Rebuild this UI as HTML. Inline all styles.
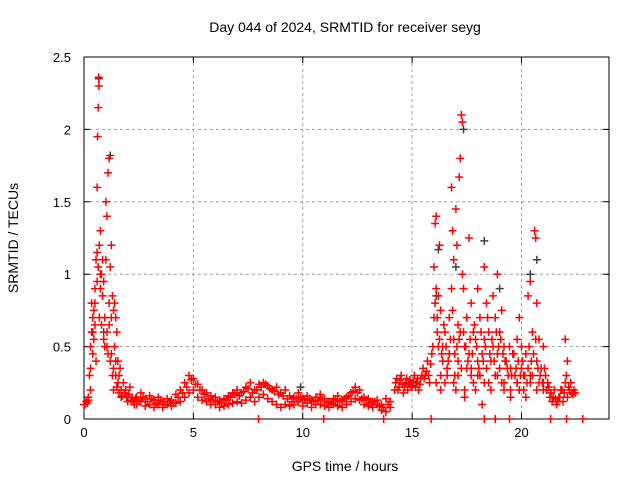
<!DOCTYPE html>
<html><head><meta charset="utf-8"><style>
html,body{margin:0;padding:0;background:#fff;}
svg{display:block;font-family:"Liberation Sans",sans-serif;}
</style></head><body>
<svg id="chart" width="640" height="480" xmlns="http://www.w3.org/2000/svg">
<rect width="640" height="480" fill="#fff"/>
<text x="345" y="32" font-size="14" text-anchor="middle">Day 044 of 2024, SRMTID for receiver seyg</text>
<text x="345" y="471" font-size="14" text-anchor="middle">GPS time / hours</text>
<text transform="translate(18,238) rotate(-90)" font-size="14" text-anchor="middle">SRMTID / TECUs</text>
<g id="grid"></g>
<g id="axes"></g>
<g id="dark"></g>
<g id="red"></g>
</svg>
<script>
const xTicks=[0,5,10,15,20];
const yTicks=[0,0.5,1,1.5,2,2.5];
const yTickLabels=["0","0.5","1","1.5","2","2.5"];
const redHours=[0,.05,.1,.15,.2,.25,.3,.3,.35,.35,.4,.4,.45,.5,.5,.55,.55,.6,.6,.62,.65,.67,.68,.7,.7,.75,.75,.8,.8,.85,.9,.9,.95,1,1,1.05,1.05,1.1,1.1,1.15,1.15,1.2,1.2,1.25,1.25,1.3,1.3,1.35,1.35,1.4,1.4,1.45,1.45,1.5,1.5,1.55,1.6,1.65,1.7,1.8,1.9,2,2.1,2.2,2.3,
2.4,2.4,2.6,2.6,2.8,2.8,3,3,3.2,3.2,3.4,3.4,3.6,3.6,3.8,3.8,4,4,4.2,4.2,4.4,4.4,4.6,4.6,4.8,4.8,5,5,5.2,5.2,5.4,5.4,5.6,5.6,5.8,5.8,6,6,6.2,6.2,6.4,6.4,6.6,6.6,6.8,6.8,7,7,7.2,7.2,7.4,7.4,7.6,7.6,7.8,7.8,8,8,8.2,8.2,8.4,8.4,8.6,8.6,8.8,8.8,9,9,9.2,9.2,9.4,9.4,9.6,9.6,9.8,9.8,10,10,10.2,10.2,10.4,10.4,10.6,10.6,10.8,10.8,11,11,11.2,11.2,11.4,11.4,11.6,11.6,11.8,11.8,12,12,12.2,12.2,12.4,12.4,12.6,12.6,12.8,12.8,13,13,13.2,13.2,13.4,13.4,13.6,13.6,13.8,13.8,14,14,
14.2,14.3,14.4,14.5,14.6,14.7,14.8,14.9,15,15.1,15.2,15.3,15.4,15.5,15.6,15.7,15.8,15.9,16,16,16.05,16.1,16.1,16.15,16.2,16.2,16.25,16.3,16.3,16.4,16.4,16.5,16.5,16.6,16.7,16.7,16.8,16.8,16.85,16.9,16.9,16.95,17,17,17.05,17.1,17.1,17.15,17.2,17.2,17.25,17.3,17.3,17.35,17.4,17.4,17.5,17.5,17.6,17.6,17.7,17.7,17.8,17.8,17.9,17.9,18,18,18.1,18.1,18.2,18.2,18.3,18.3,18.4,18.4,18.5,18.5,18.6,18.7,18.7,18.8,18.8,18.9,18.9,19,19,19.1,19.1,19.2,19.2,19.3,19.4,19.5,19.5,19.6,19.7,19.8,19.8,19.9,19.9,20,20,20.1,20.2,20.2,20.3,20.3,20.4,20.4,20.5,20.5,20.6,20.65,20.7,20.7,20.8,20.8,20.9,21,21,21.1,21.2,21.3,21.4,21.5,21.6,21.7,21.8,21.9,22,22,22.1,22.1,22.2,22.3,22.4,
7.98,10.96,13.7,15.87,18.3,18.8,19.45,21.33,22.06,22.8];
const redValues=[.1,.1,.12,.11,.15,.3,.5,.2,.6,.8,.45,.7,.55,.9,.65,1.1,.4,1.15,1.6,1.95,2.15,2.36,2.3,1.2,.7,1.3,.9,1,.65,1.1,.95,.55,.5,1.5,1.1,1.4,.6,1.7,.45,1.8,.8,1.05,.4,1.2,.7,.85,.3,.75,.2,.8,.5,.7,.3,.6,.22,.4,.18,.35,.15,.25,.2,.12,.22,.15,.1,
.15,.1,.18,.12,.14,.09,.16,.1,.13,.08,.15,.1,.12,.08,.14,.1,.13,.09,.17,.11,.2,.12,.25,.15,.3,.18,.28,.2,.24,.15,.2,.13,.18,.12,.16,.1,.15,.1,.13,.08,.14,.09,.16,.1,.18,.11,.2,.12,.18,.11,.22,.13,.25,.15,.2,.12,.24,.15,.25,.17,.23,.14,.2,.12,.22,.1,.18,.08,.2,.1,.16,.09,.15,.1,.18,.12,.14,.09,.16,.11,.13,.08,.15,.1,.17,.1,.14,.09,.12,.08,.14,.1,.16,.09,.13,.08,.15,.1,.18,.12,.22,.14,.2,.13,.15,.1,.14,.09,.12,.08,.13,.1,.1,.06,.14,.05,.12,.08,
.2,.28,.22,.3,.18,.25,.2,.27,.22,.3,.25,.2,.28,.35,.3,.4,.25,.45,.7,1.05,1.35,1.4,.9,.6,.5,.85,1.2,.3,.75,.5,.4,.6,.25,.35,.7,.45,1.6,.9,1.3,1.1,.55,.3,1.45,.2,1.2,.65,.4,1.67,1.8,.6,2.1,2.05,1,.9,.5,.15,.7,.35,1.25,.45,.3,.8,.6,.25,.55,.2,.9,.4,.7,.3,.45,.1,1.05,.55,.8,.35,.25,.6,.4,.85,.5,.7,.3,1,.45,.6,.35,.75,.25,.5,.2,.4,.3,.35,.15,.45,.3,.25,.55,.7,.2,.35,.5,.3,.45,.15,.85,.35,.95,.25,.6,.3,1.3,1.25,.8,.4,.55,.25,.35,.5,.2,.3,.25,.15,.12,.2,.1,.15,.2,.12,.55,.25,.4,.15,.2,.18,.2,
0,0,0,0,0,0,0,0,0,0];
const extraHours=[.2,.3,.4,.45,.5,.6,.65,.75,.85,.95,1.05,1.15,1.25,1.35,1.45,1.55,1.6,1.7,1.75,1.85,1.95,2.05,2.15,2.25,2.35,
2.5,2.7,2.9,3.1,3.3,3.5,3.7,3.9,4.1,4.3,4.5,4.7,4.9,5.1,5.3,5.5,5.7,5.9,6.1,6.3,6.5,6.7,6.9,7.1,7.3,7.5,7.7,7.9,8.1,8.3,8.5,8.7,8.9,9.1,9.3,9.5,9.7,9.9,10.1,10.3,10.5,10.7,10.9,11.1,11.3,11.5,11.7,11.9,12.1,12.3,12.5,12.7,12.9,13.1,13.3,13.5,13.7,13.9,
14.25,14.35,14.45,14.55,14.65,14.75,14.85,14.95,15.05,15.15,15.25,15.35,15.45,15.55,15.65,15.75,15.85,15.95,16.05,16.15,16.25,16.35,16.45,16.55,16.65,16.75,16.85,16.95,17.05,17.15,17.25,17.35,17.45,17.55,17.65,17.75,17.85,17.95,18.05,18.15,18.25,18.35,18.45,18.55,18.65,18.75,18.85,18.95,19.05,19.15,19.25,19.35,19.45,19.55,19.65,19.75,19.85,19.95,20.05,20.15,20.25,20.35,20.45,20.55,20.65,20.75,20.85,20.95,21.05,21.15,21.25,21.35,21.45,21.55,21.65,21.75,21.85,21.95,22.05,22.15,22.25,22.35,22.45,
16.1,16.3,16.6,16.9,17.1,17.4,17.7,18.0,18.3,18.6,18.9,19.2,19.5,19.8,20.1,20.4,20.7,21.0];
const extraValues=[.13,.35,.6,.75,.8,.95,1.05,1.0,.85,.7,.5,.65,.45,.35,.4,.25,.3,.2,.16,.18,.15,.17,.13,.12,.14,
.13,.15,.12,.14,.11,.13,.1,.12,.11,.15,.18,.22,.27,.24,.2,.17,.14,.13,.12,.11,.13,.15,.17,.16,.19,.21,.18,.2,.22,.24,.21,.19,.17,.16,.14,.12,.14,.15,.13,.14,.12,.13,.14,.12,.11,.13,.12,.14,.16,.19,.18,.14,.13,.11,.12,.09,.08,.1,
.25,.2,.27,.24,.22,.28,.24,.23,.26,.22,.28,.24,.3,.28,.33,.3,.38,.5,.8,.7,.55,.45,.65,.5,.4,.55,.75,.45,.5,.55,.35,.6,.5,.4,.55,.45,.65,.5,.35,.6,.4,.5,.7,.45,.55,.4,.6,.5,.55,.45,.4,.35,.5,.3,.45,.35,.4,.3,.4,.3,.25,.5,.4,.45,.55,.35,.3,.25,.35,.2,.22,.18,.15,.14,.12,.15,.2,.18,.3,.22,.25,.17,.18,
.25,.2,.3,.25,.3,.2,.35,.3,.25,.2,.3,.25,.2,.25,.2,.3,.2,.25];
const darkHours=[.68,1.2,17.35,18.3,16.1,20.4,20.7,9.9,.9,16.2,19.0,17.0];
const darkValues=[2.35,1.82,2.0,1.23,.85,1.0,1.1,.22,.6,1.17,.9,1.05];
const X0=84,X1=609,Y0=419,Y1=57;
const xs=h=>X0+(h/24)*(X1-X0);
const ys=v=>Y0-(v/2.5)*(Y0-Y1);
const NS="http://www.w3.org/2000/svg";
function mk(tag,attrs,parent){const e=document.createElementNS(NS,tag);for(const k in attrs)e.setAttribute(k,attrs[k]);parent.appendChild(e);return e;}
const grid=document.getElementById('grid'),axes=document.getElementById('axes');
xTicks.forEach(t=>{
  if(t>0){const l=mk('line',{x1:xs(t),x2:xs(t),y1:Y1,y2:Y0,stroke:'#a0a0a0','stroke-dasharray':'3,3'},grid);
  
  }
  const tk=mk('path',{d:`M${xs(t)},${Y0}v-6M${xs(t)},${Y1}v6`,stroke:'#000'},axes);
  
  
  const tx=mk('text',{x:xs(t),y:Y0+18,'font-size':13,'text-anchor':'middle'},axes);tx.textContent=t;
  
  
});
yTicks.forEach((t,i)=>{
  if(t>0&&t<2.5){const l=mk('line',{x1:X0,x2:X1,y1:ys(t),y2:ys(t),stroke:'#a0a0a0','stroke-dasharray':'3,3'},grid);
  
  }
  const tk=mk('path',{d:`M${X0},${ys(t)}h6M${X1},${ys(t)}h-6`,stroke:'#000'},axes);
  
  
  const tx=mk('text',{x:X0-13,y:ys(t)+5,'font-size':13,'text-anchor':'end'},axes);tx.textContent=yTickLabels[i];
  
  
});
const fr=mk('rect',{x:X0,y:Y1,width:X1-X0,height:Y0-Y1,fill:'none',stroke:'#000'},axes);


function plot(hs,vs,col,g){
  let d='';
  hs.forEach((h,i)=>{const x=xs(h),y=ys(vs[i]);d+=`M${x-4},${y}h8M${x},${y-4}v8`;});
  const p=mk('path',{d:d,stroke:col,'stroke-width':1.5,fill:'none'},g);
  
  
}
plot(darkHours,darkValues,'#404040',document.getElementById('dark'));
plot(redHours,redValues,'#ff0000',document.getElementById('red'));
plot(extraHours,extraValues,'#ff0000',document.getElementById('red'));
</script>
</body></html>
